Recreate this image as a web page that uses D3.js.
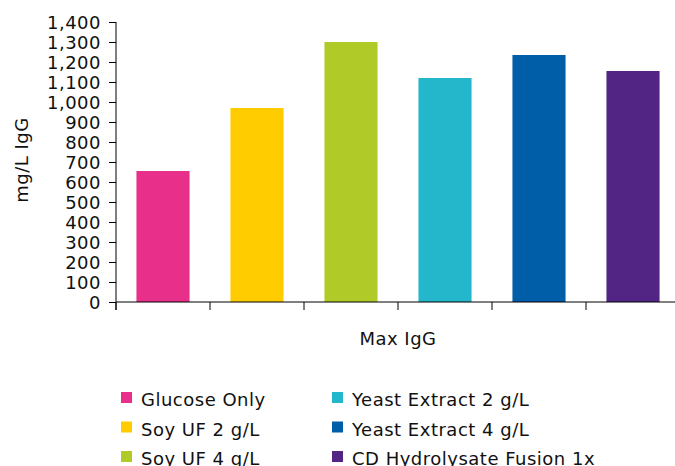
<!DOCTYPE html>
<html>
<head>
<meta charset="utf-8">
<script src="https://cdn.jsdelivr.net/npm/d3@7"></script>
<style>
  body { margin: 0; background: #fff; }
  svg text { font-family: Verdana, "DejaVu Sans", sans-serif; fill: #111; letter-spacing: 0.5px; }
</style>
</head>
<body>
<div class="chart"></div>
<script>
  // data
  var categories = ["Glucose Only", "Soy UF 2 g/L", "Soy UF 4 g/L",
                    "Yeast Extract 2 g/L", "Yeast Extract 4 g/L", "CD Hydrolysate Fusion 1x"];
  var values = [655, 970, 1300, 1120, 1235, 1155];
  var colors = ["#e8308a", "#ffcc00", "#b0cb28", "#24b7cb", "#005da8", "#522584"];
  var yTicks = [0, 100, 200, 300, 400, 500, 600, 700, 800, 900, 1000, 1100, 1200, 1300, 1400];
  var groupLabel = "Max IgG";
  var yLabel = "mg/L IgG";

  var W = 675, H = 466;
  var margin = { top: 22, left: 116 },
      width = 564,
      height = 280;

  var svg = d3.select(".chart").append("svg")
      .attr("width", W)
      .attr("height", H);

  var g = svg.append("g")
      .attr("transform", "translate(" + margin.left + "," + margin.top + ")");

  var x = d3.scaleBand()
      .domain(categories)
      .range([0, width])
      .paddingInner(0.435)
      .paddingOuter(0.2175);

  // tick positions at band edges
  var xEdge = d3.scaleLinear().domain([0, categories.length]).range([0, width]);

  var y = d3.scaleLinear()
      .domain([0, 1400])
      .range([height, 0]);

  // bars
  g.selectAll(".bar")
    .data(values)
    .enter().append("rect")
      .attr("class", "bar")
      .attr("x", function(d, i) { return x(categories[i]); })
      .attr("width", x.bandwidth())
      .attr("y", function(d) { return y(d); })
      .attr("height", function(d) { return y(0) - y(d); })
      .attr("fill", function(d, i) { return colors[i]; });

  // y axis
  var yAxis = d3.axisLeft(y)
      .tickValues(yTicks)
      .tickSize(7)
      .tickPadding(8)
      .tickFormat(d3.format(","));

  var ya = g.append("g")
      .attr("class", "y axis")
      .call(yAxis);
  ya.select(".domain").remove();
  ya.append("line")
      .attr("x1", 0).attr("x2", 0)
      .attr("y1", 0).attr("y2", height + 8)
      .attr("stroke", "#000");
  ya.selectAll(".tick line").attr("stroke", "#000");
  ya.selectAll("text")
      .style("font-size", "18px")
      .attr("dy", "0.36em");

  // x axis: baseline plus ticks between groups
  var xa = g.append("g")
      .attr("class", "x axis")
      .attr("transform", "translate(0," + height + ")");
  xa.append("line")
      .attr("x1", 0).attr("x2", width)
      .attr("stroke", "#000");
  xa.selectAll(".xt")
    .data(d3.range(categories.length + 1))
    .enter().append("line")
      .attr("class", "xt")
      .attr("x1", function(d) { return xEdge(d); })
      .attr("x2", function(d) { return xEdge(d); })
      .attr("y1", 0).attr("y2", 8)
      .attr("stroke", "#000");

  svg.append("text")
      .attr("x", 398)
      .attr("y", 345)
      .attr("text-anchor", "middle")
      .style("font-size", "18px")
      .text(groupLabel);

  svg.append("text")
      .attr("transform", "translate(28,160) rotate(-90)")
      .attr("text-anchor", "middle")
      .style("font-size", "18px")
      .text(yLabel);

  // legend, two columns of three
  var legend = svg.append("g").attr("class", "legend");
  var item = legend.selectAll(".item")
    .data(categories)
    .enter().append("g")
      .attr("class", "item")
      .attr("transform", function(d, i) {
        var col = Math.floor(i / 3), row = i % 3;
        return "translate(" + (121 + col * 211) + "," + (392 + row * 29.5) + ")";
      });
  item.append("rect")
      .attr("width", 11)
      .attr("height", 11)
      .attr("fill", function(d, i) { return colors[i]; });
  item.append("text")
      .attr("x", 20)
      .attr("y", 14)
      .style("font-size", "18px")
      .text(function(d) { return d; });
</script>
</body>
</html>
